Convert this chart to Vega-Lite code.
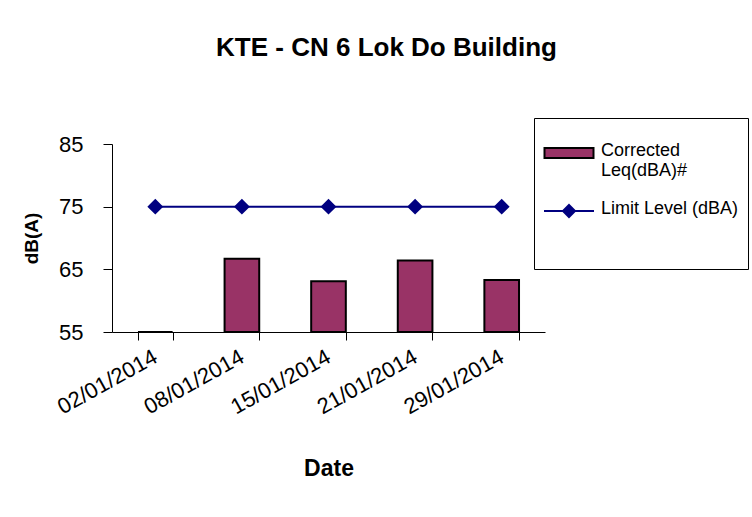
{
  "$schema": "https://vega.github.io/schema/vega-lite/v6.json",
  "autosize": {"type": "none"},
  "padding": {"left": 112, "top": 144, "right": 207, "bottom": 185},
  "width": 433,
  "height": 188,
  "background": "white",
  "config": {
    "font": "Liberation Sans",
    "view": {"stroke": null},
    "axis": {"grid": false, "domainColor": "black", "tickColor": "black", "labelColor": "black", "titleColor": "black", "domainWidth": 1, "tickWidth": 1},
    "legend": {
      "title": " ",
      "titleOrient": "bottom",
      "titleFontSize": 12,
      "titlePadding": 28,
      "orient": "none",
      "legendX": 422,
      "legendY": -26,
      "strokeColor": "black",
      "fillColor": "white",
      "padding": 9,
      "rowPadding": 5,
      "labelFontSize": 18,
      "labelColor": "black",
      "labelLimit": 0,
      "labelOffset": 6,
      "symbolSize": 2500,
      "symbolStrokeWidth": 2,
      "symbolOpacity": 1
    }
  },
  "title": {
    "text": "KTE - CN 6 Lok Do Building",
    "fontSize": 26,
    "fontWeight": "bold",
    "font": "Liberation Sans",
    "color": "black",
    "anchor": "middle",
    "frame": "group",
    "dx": 58,
    "offset": 57
  },
  "data": {
    "values": [
      {"date": "02/01/2014", "series": "Corrected Leq(dBA)#", "value": 55},
      {"date": "08/01/2014", "series": "Corrected Leq(dBA)#", "value": 66.7},
      {"date": "15/01/2014", "series": "Corrected Leq(dBA)#", "value": 63.1},
      {"date": "21/01/2014", "series": "Corrected Leq(dBA)#", "value": 66.4},
      {"date": "29/01/2014", "series": "Corrected Leq(dBA)#", "value": 63.3},
      {"date": "02/01/2014", "series": "Limit Level (dBA)", "value": 75},
      {"date": "08/01/2014", "series": "Limit Level (dBA)", "value": 75},
      {"date": "15/01/2014", "series": "Limit Level (dBA)", "value": 75},
      {"date": "21/01/2014", "series": "Limit Level (dBA)", "value": 75},
      {"date": "29/01/2014", "series": "Limit Level (dBA)", "value": 75}
    ]
  },
  "encoding": {
    "x": {
      "field": "date",
      "type": "ordinal",
      "sort": null,
      "scale": {"paddingInner": 0.6, "paddingOuter": 0.3},
      "axis": {
        "title": "Date",
        "titleFontSize": 23,
        "titleFontWeight": "bold",
        "titlePadding": 40,
        "labelFontSize": 22,
        "labelAngle": -29,
        "labelAlign": "right",
        "labelBaseline": "top",
        "labelPadding": 6,
        "labelOffset": -5,
        "tickBand": "extent",
        "tickSize": 8,
        "labelOverlap": false
      }
    },
    "y": {
      "field": "value",
      "type": "quantitative",
      "scale": {"domain": [55, 85], "zero": false, "nice": false},
      "axis": {
        "title": "dB(A)",
        "titleFontSize": 19,
        "titleFontWeight": "bold",
        "titlePadding": 17,
        "values": [55, 65, 75, 85],
        "labelFontSize": 22,
        "labelPadding": 20,
        "tickSize": 9
      }
    }
  },
  "layer": [
    {
      "transform": [{"filter": "datum.series === 'Corrected Leq(dBA)#'"}],
      "mark": {"type": "bar", "strokeWidth": 2, "opacity": 1},
      "encoding": {
        "y2": {"datum": 55},
        "fill": {
          "field": "series",
          "type": "nominal",
          "title": " ",
          "scale": {"domain": ["Corrected Leq(dBA)#", "Limit Level (dBA)"], "range": ["#993366", "#000080"]},
          "legend": {
            "title": " ",
            "encode": {
              "symbols": {
                "update": {
                  "shape": {"signal": "datum.value === 'Limit Level (dBA)' ? 'M-1,0H1M0,-0.24L0.24,0L0,0.24L-0.24,0Z' : 'M-0.98,-0.2H0.98V0.2H-0.98Z'"},
                  "strokeWidth": {"value": 2},
                  "opacity": {"value": 1}
                }
              },
              "labels": {
                "update": {
                  "text": {"signal": "datum.value === 'Corrected Leq(dBA)#' ? ['Corrected', 'Leq(dBA)#'] : datum.value"},
                  "baseline": {"value": "top"},
                  "dy": {"value": -11}
                }
              }
            }
          }
        },
        "stroke": {
          "field": "series",
          "type": "nominal",
          "title": " ",
          "scale": {"domain": ["Corrected Leq(dBA)#", "Limit Level (dBA)"], "range": ["#000000", "#000080"]},
          "legend": {
            "title": " ",
            "encode": {
              "symbols": {
                "update": {
                  "shape": {"signal": "datum.value === 'Limit Level (dBA)' ? 'M-1,0H1M0,-0.24L0.24,0L0,0.24L-0.24,0Z' : 'M-0.98,-0.2H0.98V0.2H-0.98Z'"},
                  "strokeWidth": {"value": 2},
                  "opacity": {"value": 1}
                }
              },
              "labels": {
                "update": {
                  "text": {"signal": "datum.value === 'Corrected Leq(dBA)#' ? ['Corrected', 'Leq(dBA)#'] : datum.value"},
                  "baseline": {"value": "top"},
                  "dy": {"value": -11}
                }
              }
            }
          }
        }
      }
    },
    {
      "transform": [{"filter": "datum.series === 'Limit Level (dBA)'"}],
      "mark": {"type": "line", "strokeWidth": 2, "point": {"shape": "diamond", "size": 170, "filled": true, "fill": "#000080", "opacity": 1}},
      "encoding": {
        "stroke": {"field": "series", "type": "nominal", "title": " "}
      }
    }
  ]
}
